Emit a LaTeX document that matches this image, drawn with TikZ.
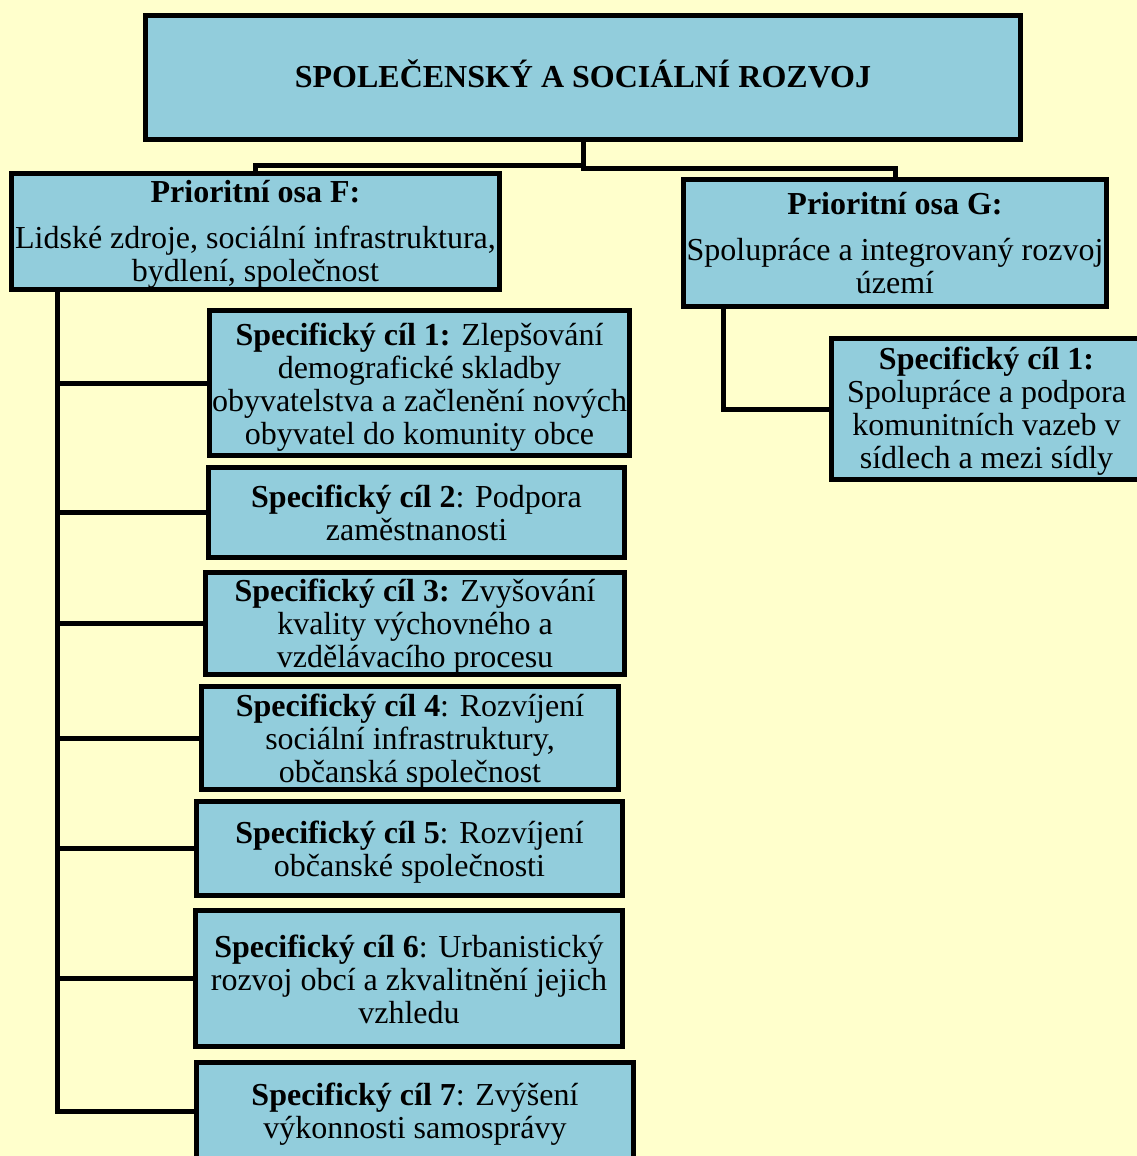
\documentclass[tikz,border=0pt]{standalone}
\usepackage{fontspec}
\setmainfont{Liberation Serif}
\usetikzlibrary{calc}
\definecolor{bgyellow}{HTML}{FFFFCC}
\definecolor{boxblue}{HTML}{92CDDC}
\newcommand\addtop[2]{\raisebox{0pt}[\dimexpr\height+#1\relax]{#2}}
\tikzset{
  box/.style={draw=black, fill=boxblue, line width=4.5pt, inner sep=0pt, align=center,
    font=\fontsize{32}{33}\selectfont, text=black},
  link/.style={draw=black, line width=5pt, line cap=rect}
}
\begin{document}
\begin{tikzpicture}[x=1pt,y=-1pt]
\useasboundingbox (0,0) rectangle (1137,1156);
\fill[bgyellow] (0,0) rectangle (1137,1156);
\clip (0,0) rectangle (1137,1156);

% connectors from title
\coordinate (tb) at (583,139.5);
\coordinate (fn) at (255.5,173.5);
\coordinate (gn) at (895,179.5);

\node[box, minimum width=875pt, minimum height=124pt] (T) at (583,77.5)
  {\textbf{SPOLEČENSKÝ A SOCIÁLNÍ ROZVOJ}\rule[-8pt]{0pt}{8pt}};

\node[box, minimum width=488pt, minimum height=116pt] (F) at (255.5,231.5)
  {\addtop{6pt}{\textbf{Prioritní osa F:}}\\[13pt]Lidské zdroje, sociální infrastruktura,\\bydlení, společnost};

\node[box, minimum width=423pt, minimum height=127pt] (G) at (895,243)
  {\textbf{Prioritní osa G:}\\[13pt]Spolupráce a integrovaný rozvoj\\území};

\node[box, minimum width=310pt, minimum height=141pt] (G1) at (986.5,409)
  {\addtop{4pt}{\textbf{Specifický cíl 1:}}\\Spolupráce a podpora\\komunitních vazeb v\\sídlech a mezi sídly};

\node[box, minimum width=420pt, minimum height=145pt] (S1) at (419.5,383)
  {\addtop{8pt}{\textbf{Specifický cíl 1:} Zlepšování}\\demografické skladby\\obyvatelstva a začlenění nových\\obyvatel do komunity obce};
\node[box, minimum width=416pt, minimum height=90pt] (S2) at (416.5,512.5)
  {\textbf{Specifický cíl 2}: Podpora\\zaměstnanosti};
\node[box, minimum width=419pt, minimum height=102pt] (S3) at (415,623.5)
  {\addtop{6pt}{\textbf{Specifický cíl 3:} Zvyšování}\\kvality výchovného a\\vzdělávacího procesu};
\node[box, minimum width=417pt, minimum height=99pt] (S4) at (410,738)
  {\addtop{8pt}{\textbf{Specifický cíl 4}: Rozvíjení}\\sociální infrastruktury,\\občanská společnost};
\node[box, minimum width=426pt, minimum height=94pt] (S5) at (409.5,848.5)
  {\addtop{8pt}{\textbf{Specifický cíl 5}: Rozvíjení}\\občanské společnosti};
\node[box, minimum width=427pt, minimum height=136pt] (S6) at (409,978.5)
  {\addtop{2pt}{\textbf{Specifický cíl 6}: Urbanistický}\\rozvoj obcí a zkvalitnění jejich\\vzhledu};
\node[box, minimum width=437pt, minimum height=97pt] (S7) at (415,1111)
  {\addtop{6pt}{\textbf{Specifický cíl 7}: Zvýšení}\\výkonnosti samosprávy};

\draw[link] (T.south) |- ([yshift=9pt]G.north) -- (G.north);
\draw[link] ([yshift=-23.5pt]T.south) -| (F.north);

% trunk of F
\coordinate (ft) at ([xshift=48.5pt]F.south west);
\draw[link] (ft) |- (S7.west);
\foreach \s in {S1,S2,S3,S4,S5,S6}{
  \draw[link] (ft |- \s.west) -- (\s.west);
}

% trunk of G
\coordinate (gt) at ([xshift=42.5pt]G.south west);
\draw[link] (gt) |- (G1.west);
\end{tikzpicture}
\end{document}
